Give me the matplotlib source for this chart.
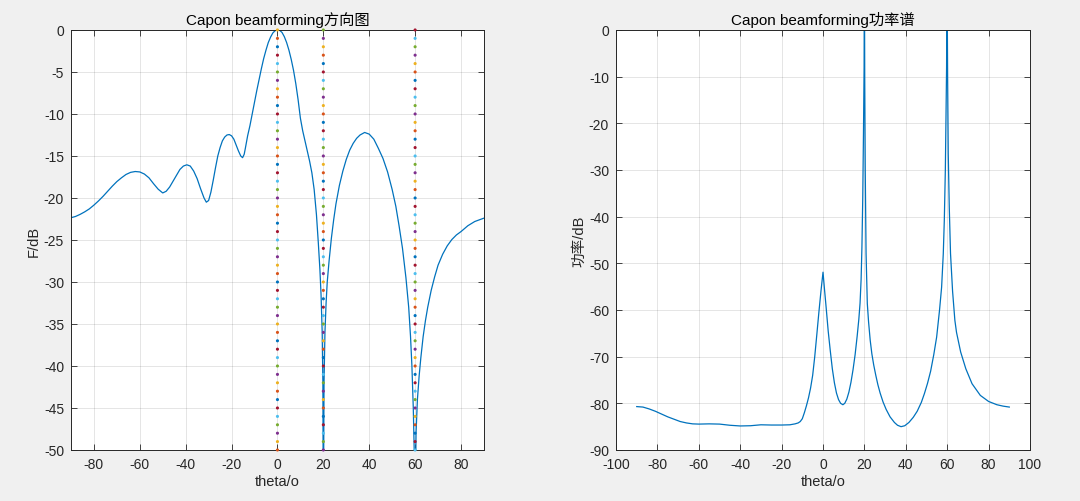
import matplotlib.pyplot as plt
import numpy as np

plt.rcParams['font.family'] = ['Liberation Sans', 'Noto Sans CJK SC', 'DejaVu Sans']
plt.rcParams['axes.unicode_minus'] = False

# ---- data ----
# 方向图 (beam pattern), dB
bp_theta = [-90, -88, -86, -84, -82, -80, -78, -76, -74, -72, -70, -68, -66, -64,
            -62, -60, -58, -56, -54, -52, -50, -48.5, -47, -45.5, -44, -42.5,
            -41, -39.5, -38, -36.5, -35, -33.5, -32, -31, -30, -29, -28, -27,
            -26, -25, -24, -23, -22, -21, -20, -19, -18, -17, -16, -15.2, -14.5,
            -14, -13, -12, -11, -10, -9, -8, -7, -6, -5, -4, -3, -2, -1, 0, 0.5,
            1, 2, 3, 4, 5, 6, 7, 8, 9, 10, 11, 12, 13, 14, 15, 16, 17, 17.8,
            18.5, 19, 19.5, 19.8, 20, 20.3, 20.7, 21.2, 21.7, 22.5, 23.5, 24.5,
            25.5, 27, 28.5, 30, 31.5, 33, 34.5, 36, 38, 40, 42, 44, 46, 48, 50,
            51.6, 53, 54.5, 56, 57.2, 58, 58.6, 59.2, 59.6, 60, 60.4, 61, 61.75,
            62.5, 63.5, 64.5, 65.5, 67, 68.5, 70, 72, 74, 76, 78, 80, 83, 86, 90]
bp_db = [-22.35, -22.2, -21.95, -21.65, -21.3, -20.85, -20.35, -19.8, -19.2,
         -18.6, -18.05, -17.6, -17.2, -16.95, -16.85, -16.9, -17.15, -17.6,
         -18.3, -18.95, -19.4, -19.2, -18.7, -18.0, -17.3, -16.6, -16.2, -16.05,
         -16.2, -16.8, -17.7, -18.9, -20.0, -20.5, -20.3, -19.3, -17.9, -16.4,
         -15.0, -14.0, -13.2, -12.75, -12.5, -12.45, -12.6, -13.0, -13.7, -14.4,
         -15.0, -15.2, -14.8, -14.1, -12.6, -11.4, -10.0, -8.6, -7.2, -5.9, -4.6,
         -3.4, -2.4, -1.5, -0.85, -0.35, -0.08, 0.0, 0.0, -0.05, -0.3, -0.8,
         -1.5, -2.4, -3.5, -4.8, -6.4, -8.3, -10.5, -12.0, -13.2, -14.4, -15.6,
         -17.0, -19.0, -22.0, -25.3, -28.5, -31.5, -36.0, -42.0, -60.0, -42.0,
         -36.0, -32.5, -30.0, -27.5, -24.8, -22.6, -20.7, -18.5, -16.8, -15.4,
         -14.3, -13.5, -12.9, -12.5, -12.2, -12.4, -13.0, -14.1, -15.3, -16.9,
         -19.0, -21.0, -23.3, -26.0, -29.5, -33.0, -36.5, -40.0, -45.0, -50.0,
         -60.0, -48.0, -44.0, -41.2, -39.0, -36.5, -34.6, -33.0, -31.0, -29.4,
         -28.0, -26.7, -25.7, -24.95, -24.4, -24.0, -23.3, -22.8, -22.4]

# 功率谱 (power spectrum), dB
ps_theta = [-90, -87, -84, -81, -78, -75, -72, -69, -66, -63, -60, -55, -50,
            -45, -40, -35, -30, -25, -20, -16, -13.5, -12, -11, -10, -9, -8,
            -7, -6, -5, -4, -3, -2, -1, 0, 0.7, 1.5, 2.5, 3.5, 4.5, 5.5, 6.5,
            7.5, 8.5, 9.6, 10.5, 11.5, 12.5, 13.5, 14.5, 15.5, 16.5, 17.3,
            17.9, 18.4, 18.8, 19.2, 19.55, 19.85, 20, 20.15, 20.4, 20.8, 21.4,
            22, 22.8, 23.6, 24.5, 25.5, 26.5, 27.6, 29, 30.5, 32.4, 34.5, 36,
            37.7, 39.5, 41.5, 43.6, 45.5, 47.5, 49, 50.5, 52, 53.5, 54.9, 56.3,
            57.3, 58.1, 58.6, 59.1, 59.4, 59.7, 59.9, 60.2, 60.5, 61.0, 61.6,
            62.6, 63.7, 64.5, 66.5, 69, 72, 76, 80, 84, 87, 90]
ps_db = [-80.7, -80.8, -81.2, -81.7, -82.3, -82.9, -83.4, -83.9, -84.2, -84.4,
         -84.45, -84.4, -84.45, -84.7, -84.85, -84.8, -84.6, -84.65, -84.65,
         -84.6, -84.4, -84.2, -83.9, -83.3, -82.0, -80.5, -78.8, -76.7, -74.0,
         -70.0, -65.3, -60.5, -56.0, -51.9, -55.5, -59.4, -64.5, -68.7, -72.6,
         -75.6, -77.8, -79.2, -80.0, -80.3, -80.0, -79.1, -77.6, -75.5, -72.8,
         -69.6, -65.6, -62.0, -58.5, -53.5, -46.5, -36.0, -22.0, -8.0, 15.0,
         -10.0, -30.0, -47.9, -58.6, -62.5, -66.5, -69.4, -71.8, -74.0, -76.0,
         -77.8, -79.7, -81.3, -82.9, -84.1, -84.7, -85.0, -84.8, -84.1, -83.0,
         -81.7, -79.8, -77.9, -75.7, -73.1, -69.6, -65.8, -60.0, -55.1, -48.0,
         -40.8, -30.0, -19.3, -8.0, 15.0, -10.0, -26.5, -38.0, -47.9, -56.0,
         -62.2, -64.8, -69.0, -72.6, -75.8, -78.3, -79.6, -80.3, -80.6, -80.8]

# dotted marker lines at the source directions
src_angles = [0, 20, 60]
src_top_color = [2, 4, 6]          # colour index of the dot at 0 dB
dot_levels = np.arange(0, -51, -1)  # one dot per dB

mcolors = ['#0072BD', '#D95319', '#EDB120', '#7E2F8E', '#77AC30', '#4DBEEE', '#A2142F']
fg = '#262626'


def style_axes(ax):
    ax.set_facecolor('white')
    ax.grid(True, color='#000000', alpha=0.12, linewidth=0.6)
    ax.set_axisbelow(True)
    ax.tick_params(direction='in', top=True, right=True, colors=fg,
                   labelsize=10, length=4, width=0.6, pad=5)
    for sp in ax.spines.values():
        sp.set_color(fg)
        sp.set_linewidth(0.7)


fig = plt.figure(figsize=(10.8, 5.02), dpi=100, facecolor='#f0f0f0')
ax1 = fig.add_axes([0.0657, 0.1016, 0.3824, 0.8367])
ax2 = fig.add_axes([0.5704, 0.1016, 0.3833, 0.8367])

# ---- left: beam pattern ----
style_axes(ax1)
ax1.plot(bp_theta, bp_db, color=mcolors[0], linewidth=0.9)
for a, t in zip(src_angles, src_top_color):
    cols = [mcolors[(t + int(v)) % 7] for v in dot_levels]
    ax1.scatter(np.full(len(dot_levels), a), dot_levels, c=cols, s=5,
                linewidths=0, zorder=3, clip_on=False)
ax1.set_xlim(-90, 90)
ax1.set_ylim(-50, 0)
ax1.set_xticks(np.arange(-80, 81, 20))
ax1.set_yticks(np.arange(-50, 1, 5))
ax1.set_xlabel('theta/o', fontsize=10.5, color=fg, labelpad=2)
ax1.set_ylabel('F/dB', fontsize=10.5, color=fg, labelpad=2)
ax1.set_title('Capon beamforming方向图', fontsize=11, color='#000000', pad=4)

# ---- right: power spectrum ----
style_axes(ax2)
ax2.plot(ps_theta, ps_db, color=mcolors[0], linewidth=0.9)
ax2.set_xlim(-100, 100)
ax2.set_ylim(-90, 0)
ax2.set_xticks(np.arange(-100, 101, 20))
ax2.set_yticks(np.arange(-90, 1, 10))
ax2.set_xlabel('theta/o', fontsize=10.5, color=fg, labelpad=2)
ax2.set_ylabel('功率/dB', fontsize=10.5, color=fg, labelpad=2)
ax2.set_title('Capon beamforming功率谱', fontsize=11, color='#000000', pad=4)

fig.savefig('out.png', dpi=100, facecolor=fig.get_facecolor())
